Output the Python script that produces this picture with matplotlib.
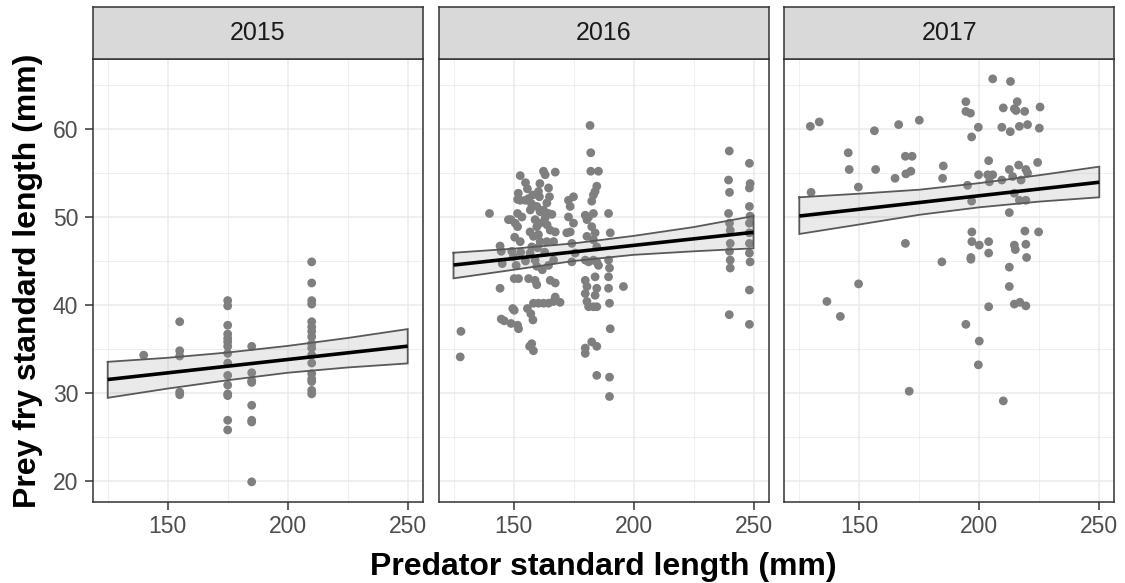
import numpy as np
import matplotlib
matplotlib.use("Agg")
import matplotlib.pyplot as plt
from matplotlib.ticker import MultipleLocator, FixedLocator

# ---------------- data ----------------
years = ["2015", "2016", "2017"]

x_2015 = [140,
          155, 155, 155, 155, 155,
          175, 175, 175, 175, 175, 175, 175, 175, 175, 175, 175, 175, 175, 175, 175,
          185, 185, 185, 185, 185, 185, 185, 185,
          210, 210, 210, 210, 210, 210, 210, 210, 210, 210, 210, 210, 210, 210, 210, 210, 210]
y_2015 = [34.3,
          38.1, 34.8, 34.2, 30.1, 29.8,
          40.5, 39.9, 37.7, 36.7, 36.2, 35.3, 34.5, 33.4, 32.0, 30.9, 29.9, 29.7, 26.9, 25.8, 35.8,
          35.3, 32.3, 31.4, 31.2, 28.6, 26.9, 26.7, 19.9,
          44.9, 42.5, 40.5, 40.1, 38.1, 37.5, 37.0, 36.4, 35.6, 35.1, 34.3, 33.4, 32.2, 31.6, 31.3, 30.3, 29.9]

x_2016 = [128.1, 127.8, 140.0, 144.4, 144.9, 145.3, 144.4, 144.9, 146.1,
          152.8, 155.8, 156.3, 151.7, 152.8, 154.9, 148.9, 150.7, 151.7, 152.8, 149.3,
          150.0, 151.1, 150.3, 152.1, 149.7, 150.3, 149.0, 151.7, 152.1, 155.8,
          157.2, 158.1, 156.7, 157.6, 158.3, 160.4, 160.8, 159.7, 161.1, 159.0,
          159.7, 156.9, 158.3, 160.4, 161.1, 157.6, 156.9, 159.0, 159.7, 156.3,
          159.0, 159.7, 158.3, 160.4, 162.5, 164.6, 162.5, 163.2, 167.4, 164.6,
          165.0, 163.9, 162.5, 164.6, 163.2, 165.3, 167.4, 163.9, 166.7, 164.6,
          166.7, 165.3, 167.4, 167.4, 169.4, 166.7,
          175.0, 172.9, 173.6, 172.9, 175.0, 173.6, 172.2, 174.3, 175.7, 174.3,
          181.9, 182.2, 182.2, 185.4, 184.7, 184.0, 183.3, 182.6, 179.9, 181.3,
          183.3, 180.6, 182.6, 184.0, 180.6, 183.3, 184.7, 179.9, 181.3, 183.3,
          184.7, 185.4, 184.0, 179.9, 180.6, 184.7, 179.9, 184.0, 180.6, 181.3,
          183.3, 184.7, 182.6, 184.7, 179.9, 179.9, 184.7,
          189.6, 190.3, 189.6, 190.0, 189.6, 189.6, 190.0, 190.3, 190.0, 190.0,
          195.8,
          239.9, 239.6, 240.0, 239.6, 240.0, 240.3, 240.3, 240.0, 240.3, 240.3, 239.9,
          248.3, 248.6, 248.3, 248.3, 248.6, 248.3, 248.3, 248.3, 248.3, 248.6, 248.3, 248.3,
          147.9, 151.7, 153.5, 157.0, 158.0, 161.0, 163.0, 162.0, 160.0, 155.0,
          153.0, 150.5, 157.5, 161.0, 164.0, 166.0, 155.0, 152.0]
y_2016 = [37.0, 34.1, 50.4, 46.7, 46.1, 44.7, 41.9, 38.4, 38.2,
          54.7, 53.2, 52.1, 52.0, 51.9, 51.9, 49.7, 49.3, 48.9, 47.2, 46.1,
          45.5, 44.5, 43.0, 43.0, 39.6, 39.4, 37.9, 37.7, 37.3, 39.6,
          39.0, 38.3, 35.3, 35.6, 34.8, 52.9, 52.3, 51.2, 50.6, 49.7,
          48.9, 48.3, 47.8, 48.0, 47.2, 46.6, 45.9, 45.1, 44.4, 43.0,
          42.8, 42.3, 40.2, 40.2, 40.2, 40.2, 55.2, 54.8, 55.1, 53.3,
          52.3, 51.6, 50.8, 50.4, 49.9, 48.5, 48.3, 47.2, 47.2, 44.5,
          45.1, 42.8, 42.5, 40.9, 40.3, 40.4,
          52.3, 51.9, 51.2, 50.0, 49.3, 48.3, 48.2, 47.0, 45.9, 44.9,
          60.4, 57.3, 55.2, 55.2, 53.5, 52.9, 52.5, 51.8, 50.2, 50.0,
          50.4, 49.7, 48.9, 48.2, 47.8, 47.4, 46.6, 45.1, 44.9, 45.1,
          44.9, 44.5, 43.2, 42.8, 42.1, 41.9, 41.3, 41.1, 40.4, 39.8,
          39.8, 39.8, 35.8, 35.3, 35.1, 34.5, 32.0,
          50.4, 48.2, 45.1, 44.2, 43.2, 41.9, 40.2, 37.3, 31.8, 29.6,
          42.1,
          57.5, 54.2, 52.8, 50.4, 49.3, 48.5, 47.0, 46.1, 45.1, 44.2, 38.9,
          56.1, 53.8, 53.3, 51.2, 50.1, 49.3, 48.2, 47.0, 45.9, 44.9, 41.7, 37.8,
          49.7, 50.4, 50.0, 50.8, 52.5, 53.8, 46.0, 44.0, 46.5, 45.0,
          46.0, 47.7, 51.5, 49.3, 49.1, 50.3, 53.9, 52.7]

x_2017 = [129.6, 133.3, 129.9, 136.5, 142.1, 145.4, 145.8, 149.6, 149.7, 156.3,
          156.8, 164.9, 166.4, 169.2, 172.0, 169.4, 171.5, 169.2, 170.8, 175.0,
          185.0, 184.7, 184.4, 194.4, 194.4, 196.3, 196.8, 199.6, 195.1, 196.8,
          196.9, 196.9, 196.5, 196.5, 200.0, 199.7, 194.4, 200.0, 199.6, 203.9,
          203.5, 205.6, 204.2, 203.9, 203.9, 203.9, 205.6, 213.0, 210.0, 209.4,
          212.9, 214.6, 215.3, 215.8, 218.9, 216.7, 220.1, 225.3, 225.0, 212.5,
          216.4, 219.4, 220.1, 213.9, 217.4, 209.4, 214.6, 216.7, 219.4, 212.5,
          224.3, 219.0, 224.7, 214.6, 215.0, 219.4, 219.7, 212.5, 212.5, 214.6,
          216.9, 219.4, 210.0]
y_2017 = [60.3, 60.8, 52.8, 40.4, 38.7, 57.3, 55.4, 53.4, 42.4, 59.8,
          55.4, 54.4, 60.5, 56.9, 56.9, 54.9, 55.2, 47.0, 30.2, 61.0,
          55.8, 54.4, 44.9, 63.1, 62.0, 61.8, 59.1, 60.2, 53.6, 51.8,
          48.3, 47.2, 45.4, 45.2, 46.8, 54.8, 37.8, 35.9, 33.2, 56.4,
          54.8, 54.8, 54.0, 47.2, 45.9, 39.8, 65.7, 65.4, 62.4, 60.2,
          59.7, 62.3, 62.1, 63.1, 62.0, 60.3, 60.5, 62.5, 60.1, 55.4,
          55.9, 55.4, 55.0, 54.6, 54.2, 54.2, 52.7, 51.9, 51.9, 50.5,
          56.2, 48.4, 48.3, 46.8, 46.3, 46.9, 45.4, 44.3, 42.1, 40.1,
          40.3, 39.9, 29.1]

# linear-model smoother (fitted line and 95% band)
smooth_x = [125, 150, 175, 200, 225, 250]
fit_ends_x = [125, 250]
fit_2015 = [31.53, 35.32]
upper_2015 = [33.54, 34.00, 34.60, 35.35, 36.25, 37.26]
lower_2015 = [29.45, 30.50, 31.45, 32.30, 32.90, 33.36]
fit_2016 = [44.54, 48.26]
upper_2016 = [45.94, 46.40, 47.00, 47.85, 48.85, 50.11]
lower_2016 = [43.03, 44.00, 45.00, 45.70, 46.10, 46.44]
fit_2017 = [50.11, 53.95]
upper_2017 = [52.24, 52.65, 53.10, 53.85, 54.75, 55.72]
lower_2017 = [48.07, 49.15, 50.25, 51.10, 51.75, 52.24]

xs = [x_2015, x_2016, x_2017]
ys = [y_2015, y_2016, y_2017]
fits = [fit_2015, fit_2016, fit_2017]
uppers = [upper_2015, upper_2016, upper_2017]
lowers = [lower_2015, lower_2016, lower_2017]

x_breaks = [150, 200, 250]
y_breaks = [20, 30, 40, 50, 60]
x_scale_limits = (125, 250)

x_label = "Predator standard length (mm)"
y_label = "Prey fry standard length (mm)"

# ---------------- styling ----------------
plt.rcParams['font.family'] = ['Liberation Sans', 'DejaVu Sans']
W, H = 1125, 583
fig = plt.figure(figsize=(W / 100, H / 100), dpi=100)


def fx(px):
    return px / W


def fy(py):  # py measured from top
    return 1 - py / H


panel_lefts = [92.7, 438.5, 784.3]
panel_w = 330.0
panel_top, panel_bot = 58.7, 502.0
strip_top = 7.3

all_y = np.concatenate([np.asarray(v, float) for v in ys])
ylo, yhi = all_y.min(), all_y.max()
ypad = 0.05 * (yhi - ylo)
ylim = (ylo - ypad, yhi + ypad)
xpad = 0.05 * (x_scale_limits[1] - x_scale_limits[0])
xlim = (x_scale_limits[0] - xpad, x_scale_limits[1] + xpad)

dark = '#333333'
grid_col = '#ebebeb'
band_edge = '#595959'

for i, yr in enumerate(years):
    left = panel_lefts[i]
    ax = fig.add_axes([fx(left), fy(panel_bot), fx(panel_w), (panel_bot - panel_top) / H])
    ax.set_xlim(xlim)
    ax.set_ylim(ylim)
    ax.set_facecolor('white')
    ax.xaxis.set_major_locator(FixedLocator(x_breaks))
    ax.yaxis.set_major_locator(FixedLocator(y_breaks))
    ax.xaxis.set_minor_locator(MultipleLocator(25))
    ax.yaxis.set_minor_locator(MultipleLocator(5))
    ax.grid(True, which='major', color=grid_col, lw=1.1, zorder=0)
    ax.grid(True, which='minor', color=grid_col, lw=0.55, zorder=0)
    ax.set_axisbelow(True)
    ax.tick_params(which='minor', length=0)
    ax.tick_params(which='major', length=5.5, width=1.1, color=dark,
                   labelsize=16.5, labelcolor='#4d4d4d')
    ax.tick_params(axis='x', pad=4)
    ax.tick_params(axis='y', pad=5)
    if i > 0:
        ax.tick_params(axis='y', length=0, labelleft=False)
    for sp in ax.spines.values():
        sp.set_color(dark)
        sp.set_linewidth(1.1)
        sp.set_zorder(5)

    ax.scatter(xs[i], ys[i], s=40, color='#7f7f7f', edgecolors='none', zorder=2)

    lo = np.asarray(lowers[i], float)
    hi = np.asarray(uppers[i], float)
    ax.fill_between(smooth_x, lo, hi, facecolor='#999999', alpha=0.2,
                    edgecolor='none', zorder=3)
    outline_x = list(smooth_x) + list(smooth_x[::-1]) + [smooth_x[0]]
    outline_y = list(hi) + list(lo[::-1]) + [hi[0]]
    ax.plot(outline_x, outline_y, color=band_edge, lw=1.3, zorder=3.5,
            solid_joinstyle='miter')
    ax.plot(fit_ends_x, fits[i], color='black', lw=2.6, zorder=4, solid_capstyle='butt')

    # strip
    sax = fig.add_axes([fx(left), fy(panel_top), fx(panel_w), (panel_top - strip_top) / H])
    sax.set_facecolor('#d9d9d9')
    sax.set_xticks([])
    sax.set_yticks([])
    for sp in sax.spines.values():
        sp.set_color(dark)
        sp.set_linewidth(1.1)
    sax.text(0.5, 0.5, yr, ha='center', va='center', fontsize=18, color='#1a1a1a',
             transform=sax.transAxes)

# axis titles
xc = (panel_lefts[0] + panel_lefts[-1] + panel_w) / 2
fig.text(fx(xc), fy(575), x_label, ha='center', va='baseline',
         fontsize=23, fontweight='bold', color='black')
fig.text(fx(28), fy((panel_top + panel_bot) / 2), y_label, ha='center', va='center',
         rotation=90, fontsize=23, fontweight='bold', color='black')

fig.savefig('out.png', dpi=100)
